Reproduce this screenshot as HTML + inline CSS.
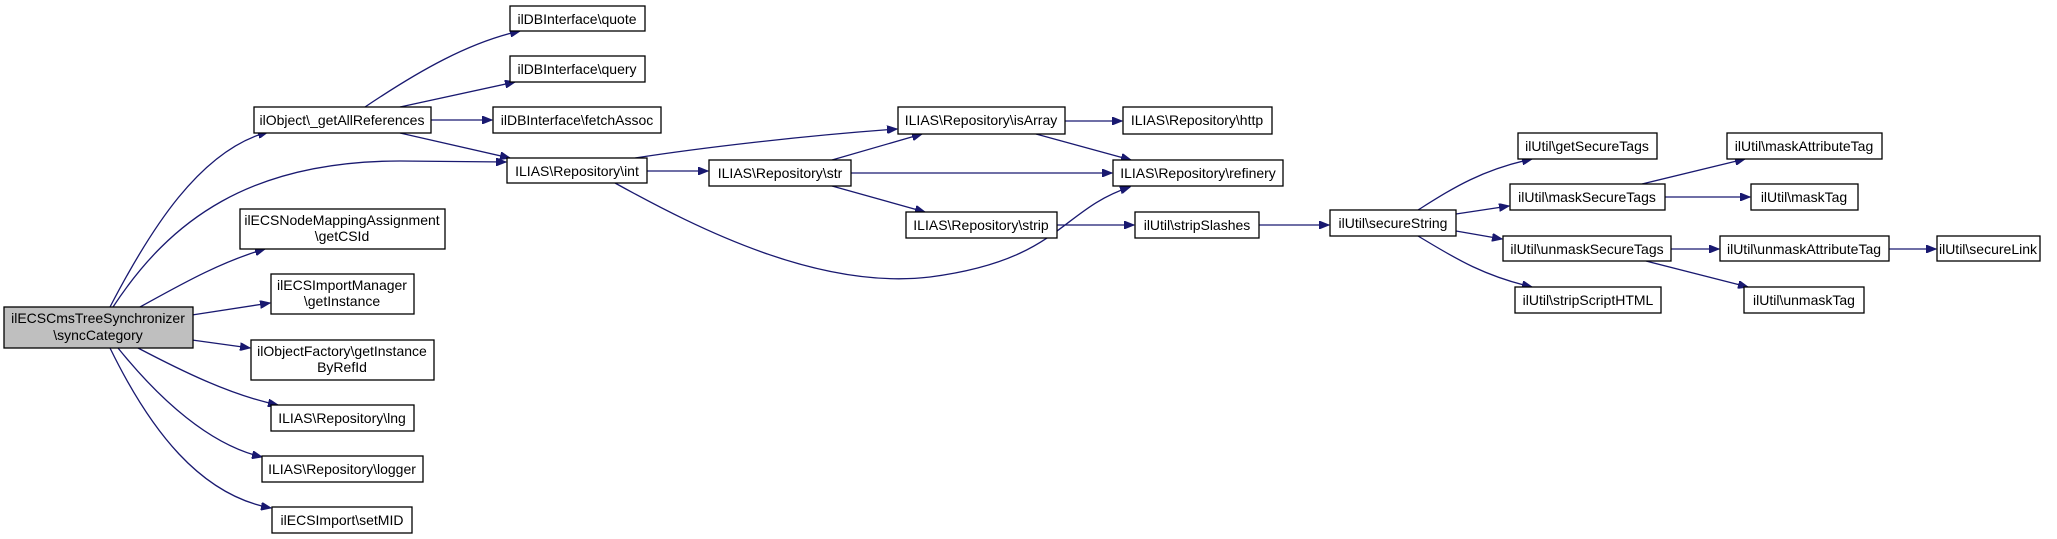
<!DOCTYPE html>
<html><head><meta charset="utf-8"><style>
html,body{margin:0;padding:0;background:#fff;width:2057px;height:539px;overflow:hidden}
svg{display:block}
text{font-family:"Liberation Sans",Arial,sans-serif;font-size:14px;fill:#000;text-anchor:middle}
rect{fill:#fff;stroke:#000;stroke-width:1.3}
path{fill:none;stroke:#191970;stroke-width:1.3}
</style></head><body>
<svg width="2057" height="539" viewBox="0 0 2057 539" xmlns="http://www.w3.org/2000/svg">
<defs><marker id="a" markerWidth="11" markerHeight="8" refX="10" refY="4" orient="auto" markerUnits="userSpaceOnUse"><polygon points="0,0 10,4 0,8" fill="#191970" stroke="#191970"/></marker></defs>
<g marker-end="url(#a)">
<path d="M110,307 C150,230 200,150 268,132"/>
<path d="M113,307 C170,220 250,161 400,161 L506,162"/>
<path d="M140,307 C180,285 220,262 265,249"/>
<path d="M192,315 L270,303"/>
<path d="M192,340 L250,348"/>
<path d="M138,348 C180,370 230,395 278,405"/>
<path d="M118,348 C160,400 210,445 262,457"/>
<path d="M110,348 C150,430 200,495 271,508"/>
<path d="M365,107 C420,70 470,42 520,31"/>
<path d="M400,107 L515,82"/>
<path d="M431,120 L492,120"/>
<path d="M400,133 L510,158"/>
<path d="M647,171 L708,171"/>
<path d="M635,158 C700,148 800,136 897,129"/>
<path d="M615,183 C700,230 820,290 930,277 C1060,260 1060,210 1130,187"/>
<path d="M832,160 L922,134"/>
<path d="M851,173 L1112,173"/>
<path d="M832,186 L925,212"/>
<path d="M1065,121 L1122,121"/>
<path d="M1036,134 L1131,160"/>
<path d="M1057,225 L1134,225"/>
<path d="M1259,225 L1329,225"/>
<path d="M1418,210 C1450,190 1480,170 1532,159"/>
<path d="M1456,214 L1509,206"/>
<path d="M1456,231 L1502,239"/>
<path d="M1418,236 C1450,255 1480,275 1532,287"/>
<path d="M1642,184 L1745,159"/>
<path d="M1665,197 L1750,197"/>
<path d="M1671,249 L1719,249"/>
<path d="M1646,261 L1748,287"/>
<path d="M1889,249 L1936,249"/>
</g>
<rect x="4" y="307" width="189" height="41" style="fill:#bfbfbf"/>
<text x="98" y="323">ilECSCmsTreeSynchronizer</text><text x="98" y="340">\syncCategory</text>
<rect x="254" y="107" width="177" height="26"/><text x="342" y="125">ilObject\_getAllReferences</text>
<rect x="510" y="6" width="135" height="25"/><text x="577" y="24">ilDBInterface\quote</text>
<rect x="510" y="56" width="135" height="26"/><text x="577" y="74">ilDBInterface\query</text>
<rect x="493" y="107" width="168" height="26"/><text x="577" y="125">ilDBInterface\fetchAssoc</text>
<rect x="507" y="158" width="140" height="25"/><text x="577" y="176">ILIAS\Repository\int</text>
<rect x="240" y="209" width="205" height="40"/><text x="342" y="225">ilECSNodeMappingAssignment</text><text x="342" y="241">\getCSId</text>
<rect x="271" y="274" width="143" height="40"/><text x="342" y="290">ilECSImportManager</text><text x="342" y="306">\getInstance</text>
<rect x="251" y="340" width="183" height="40"/><text x="342" y="356">ilObjectFactory\getInstance</text><text x="342" y="372">ByRefId</text>
<rect x="271" y="405" width="143" height="26"/><text x="342" y="423">ILIAS\Repository\lng</text>
<rect x="262" y="456" width="161" height="26"/><text x="342" y="474">ILIAS\Repository\logger</text>
<rect x="272" y="507" width="140" height="26"/><text x="342" y="525">ilECSImport\setMID</text>
<rect x="709" y="160" width="142" height="26"/><text x="780" y="178">ILIAS\Repository\str</text>
<rect x="898" y="107" width="167" height="27"/><text x="981" y="125">ILIAS\Repository\isArray</text>
<rect x="1123" y="107" width="149" height="27"/><text x="1197" y="125">ILIAS\Repository\http</text>
<rect x="1113" y="160" width="170" height="26"/><text x="1198" y="178">ILIAS\Repository\refinery</text>
<rect x="906" y="212" width="151" height="26"/><text x="981" y="230">ILIAS\Repository\strip</text>
<rect x="1135" y="212" width="124" height="26"/><text x="1197" y="230">ilUtil\stripSlashes</text>
<rect x="1330" y="210" width="126" height="26"/><text x="1393" y="228">ilUtil\secureString</text>
<rect x="1518" y="133" width="139" height="26"/><text x="1587" y="151">ilUtil\getSecureTags</text>
<rect x="1510" y="184" width="155" height="26"/><text x="1587" y="202">ilUtil\maskSecureTags</text>
<rect x="1503" y="236" width="168" height="25"/><text x="1587" y="254">ilUtil\unmaskSecureTags</text>
<rect x="1515" y="287" width="146" height="26"/><text x="1588" y="305">ilUtil\stripScriptHTML</text>
<rect x="1727" y="133" width="155" height="26"/><text x="1804" y="151">ilUtil\maskAttributeTag</text>
<rect x="1751" y="184" width="107" height="26"/><text x="1804" y="202">ilUtil\maskTag</text>
<rect x="1720" y="236" width="169" height="25"/><text x="1804" y="254">ilUtil\unmaskAttributeTag</text>
<rect x="1744" y="287" width="120" height="26"/><text x="1804" y="305">ilUtil\unmaskTag</text>
<rect x="1937" y="236" width="103" height="25"/><text x="1988" y="254">ilUtil\secureLink</text>
</svg>
</body></html>
